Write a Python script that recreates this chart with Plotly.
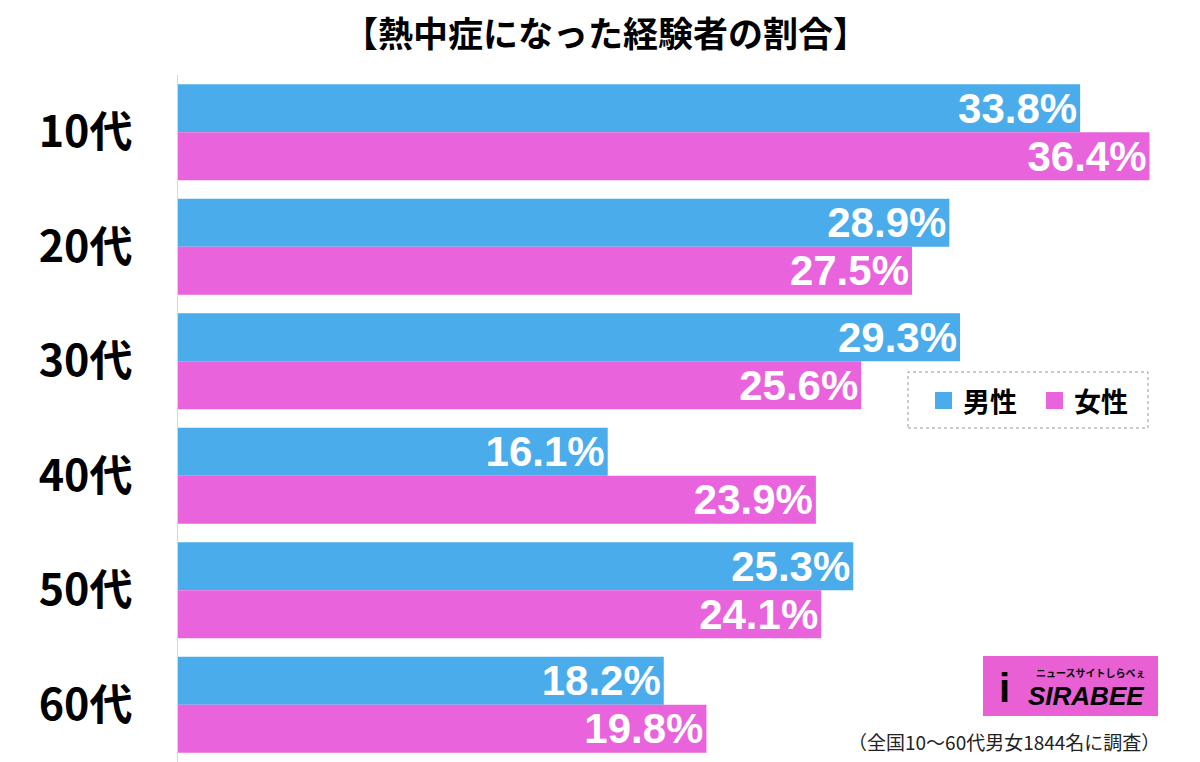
import plotly.graph_objects as go

categories = ["10代", "20代", "30代", "40代", "50代", "60代"]
male = [33.8, 28.9, 29.3, 16.1, 25.3, 18.2]
female = [36.4, 27.5, 25.6, 23.9, 24.1, 19.8]
series_names = ["男性", "女性"]
title_text = "【熱中症になった経験者の割合】"
footnote = "（全国10〜60代男女1844名に調査）"

BLUE = "#4aacea"
PINK = "#e963dc"
W, H = 1200, 762
L, R, T, B = 178, 0, 75, 0
pw, ph = W - L - R, H - T - B

def px_x(x):
    return (x - L) / pw

def px_y(y):
    return 1 - (y - T) / ph

fig = go.Figure()
for name, vals, col in [(series_names[0], male, BLUE), (series_names[1], female, PINK)]:
    fig.add_trace(go.Bar(
        y=categories, x=vals, name=name, orientation="h",
        marker=dict(color=col, line=dict(width=0)),
        text=[f"{v:.1f}%" for v in vals],
        textposition="inside", insidetextanchor="end",
        textfont=dict(color="white", size=42, family="Liberation Sans", weight="bold"),
        constraintext="none", cliponaxis=False, showlegend=False, hoverinfo="skip",
    ))

shapes = []
annotations = []
# legend box (dotted)
shapes.append(dict(type="rect", xref="paper", yref="paper",
                   x0=px_x(908), x1=px_x(1148), y0=px_y(428), y1=px_y(372),
                   line=dict(color="#999999", width=1, dash="dot"), fillcolor="white", layer="above"))
for i, (name, col) in enumerate([(series_names[0], BLUE), (series_names[1], PINK)]):
    sx = 935 + i * 111
    shapes.append(dict(type="rect", xref="paper", yref="paper",
                       x0=px_x(sx), x1=px_x(sx + 17), y0=px_y(409), y1=px_y(392),
                       line=dict(width=0), fillcolor=col, layer="above"))
    annotations.append(dict(text=name, xref="paper", yref="paper", x=px_x(sx + 26), y=px_y(400),
                            xanchor="left", yanchor="middle", showarrow=False,
                            font=dict(size=27, color="black", family="Noto Sans CJK JP", weight="bold")))

# logo
shapes.append(dict(type="rect", xref="paper", yref="paper",
                   x0=px_x(983), x1=px_x(1158), y0=px_y(716), y1=px_y(656),
                   line=dict(width=0), fillcolor="#e860d4", layer="above"))
annotations.append(dict(text="<i>SIRABEE</i>", xref="paper", yref="paper", x=px_x(1146), y=px_y(696),
                        xanchor="right", yanchor="middle", showarrow=False,
                        font=dict(size=26, color="black", family="Liberation Sans", weight="bold")))
annotations.append(dict(text="ニュースサイトしらべぇ", xref="paper", yref="paper", x=px_x(1148), y=px_y(672),
                        xanchor="right", yanchor="middle", showarrow=False,
                        font=dict(size=10, color="black", family="Noto Sans CJK JP", weight="bold")))
annotations.append(dict(text="<b>i</b>", xref="paper", yref="paper", x=px_x(1004), y=px_y(688),
                        xanchor="center", yanchor="middle", showarrow=False,
                        font=dict(size=40, color="black", family="Liberation Sans")))
# footnote
annotations.append(dict(text=footnote, xref="paper", yref="paper", x=px_x(1162), y=px_y(741),
                        xanchor="right", yanchor="middle", showarrow=False,
                        font=dict(size=19, color="#222222", family="Noto Sans CJK JP")))
# title
annotations.append(dict(text=title_text, xref="paper", yref="paper", x=px_x(605), y=px_y(31),
                        xanchor="center", yanchor="middle", showarrow=False,
                        font=dict(size=35, color="black", family="Noto Sans CJK JP", weight="bold")))

fig.update_layout(
    width=W, height=H,
    margin=dict(l=L, r=R, t=T, b=B, pad=0),
    paper_bgcolor="white", plot_bgcolor="white",
    barmode="group", bargap=0.162, bargroupgap=0,
    shapes=shapes, annotations=annotations,
    xaxis=dict(range=[0, pw / 26.69], showgrid=False, zeroline=False, showticklabels=False,
               showline=False, fixedrange=True),
    yaxis=dict(autorange="reversed", showgrid=False, zeroline=False, showline=True,
               linecolor="#d8d8d8", linewidth=1, ticks="", ticklabelstandoff=36, automargin=False,
               tickfont=dict(size=43, color="black", family="Noto Sans CJK JP", weight="bold")),
    font=dict(family="Noto Sans CJK JP"),
)

fig.write_html("out.html", post_script="document.body.style.margin='0';",
               config={"displayModeBar": False})
